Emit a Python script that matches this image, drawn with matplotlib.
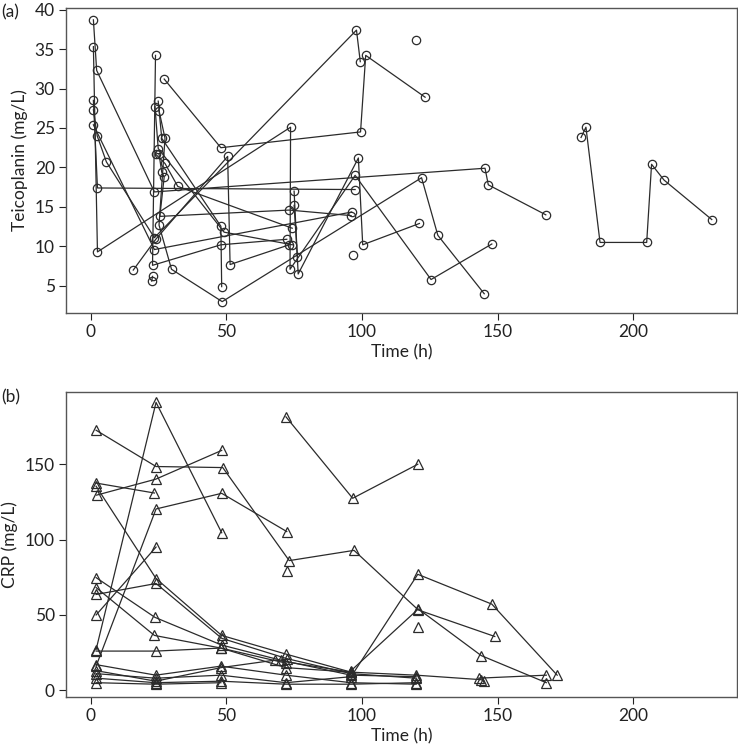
import matplotlib
matplotlib.use("Agg")
import matplotlib.pyplot as plt

plt.rcParams['font.family'] = ['Lato', 'DejaVu Sans']

# ---------------- Panel (a): Teicoplanin (mg/L) per patient ----------------
teico_t = [
    [1.0, 2.2, 23.5, 145.4, 146.6, 167.8],
    [1.0, 2.5, 73.7, 73.5, 97.5, 125.5, 147.9],
    [1.0, 2.5, 97.5],
    [1.0, 2.4, 5.8, 23.5, 98.0, 99.4],
    [1.0, 23.5, 96.2],
    [27.1, 48.0, 99.5, 101.4, 123.3],
    [23.9, 22.8, 48.0, 72.3],
    [24.9, 26.2, 48.0, 48.3],
    [25.2, 27.4, 25.2, 29.8, 48.5, 122.0, 128.0, 145.1],
    [23.7, 24.9, 49.2, 74.4],
    [15.7, 24.0, 50.5, 51.4, 73.2],
    [23.9, 27.4, 32.1, 74.3],
    [25.2, 26.2, 27.1, 25.5, 73.2, 96.0],
    [22.5, 22.8],
    [75.0, 76.5, 98.7, 100.3, 121.2],
    [75.0, 76.2],
    [180.8, 182.6, 187.8, 205.0, 206.8, 211.4, 229.0],
    [120.0],
    [96.6],
]
teico_v = [
    [38.7, 32.3, 16.9, 19.9, 17.8, 14.0],
    [35.3, 9.3, 25.1, 7.1, 19.0, 5.8, 10.3],
    [28.5, 17.4, 17.2],
    [27.3, 24.0, 20.7, 11.1, 37.4, 33.4],
    [25.4, 9.6, 14.35],
    [31.2, 22.5, 24.5, 34.2, 28.9],
    [34.2, 7.6, 10.2, 10.9],
    [28.4, 23.7, 12.55, 4.9],
    [27.2, 23.7, 12.7, 7.1, 3.0, 18.7, 11.4, 4.0],
    [27.7, 22.4, 11.8, 10.2],
    [7.0, 10.9, 21.4, 7.7, 10.2],
    [21.7, 20.5, 17.6, 12.3],
    [21.7, 19.4, 18.8, 13.8, 14.6, 13.9],
    [5.6, 6.2],
    [17.0, 6.5, 21.2, 10.2, 12.9],
    [15.2, 8.7],
    [23.8, 25.1, 10.5, 10.5, 20.4, 18.4, 13.4],
    [36.1],
    [8.9],
]

# ---------------- Panel (b): CRP (mg/L) per patient ----------------
crp_t = [
    [2.0, 24.1, 48.7, 73.2, 97.1, 120.8, 149.0],
    [2.2, 24.0, 48.3],
    [2.0, 23.5],
    [2.0, 24.1, 48.3, 72.3],
    [2.0, 24.1, 48.3],
    [2.0, 24.1, 48.3, 72.0, 96.0],
    [2.0, 24.1],
    [72.0, 96.6, 120.6],
    [72.3],
    [2.0, 24.0, 48.0, 72.0, 96.0, 120.6, 147.9, 172.0],
    [2.0, 23.7, 48.3, 70.0, 96.0, 120.0],
    [2.0, 23.5, 48.0, 72.0, 96.0],
    [96.0, 120.8, 144.0, 168.0],
    [2.0, 24.1, 48.3, 72.3, 96.0, 120.0],
    [120.6],
    [2.0, 24.0, 48.0, 72.0],
    [2.0, 24.0, 48.0, 72.0, 96.0, 120.0],
    [2.0, 24.0, 48.0, 68.0, 96.0, 120.0, 144.0, 145.0],
    [2.0, 24.0, 48.0, 72.0, 96.0, 120.0],
    [2.0, 24.0, 48.0],
    [143.0, 168.0],
]
crp_v = [
    [172.7, 148.6, 147.9, 86.1, 92.9, 53.3, 35.7],
    [129.6, 140.2, 159.3],
    [137.6, 131.0],
    [16.0, 120.4, 130.8, 105.4],
    [27.0, 191.2, 104.6],
    [135.5, 74.2, 36.4, 24.0, 12.0],
    [50.0, 95.1],
    [181.6, 127.5, 150.1],
    [79.0],
    [11.0, 8.0, 10.0, 5.0, 9.0, 77.0, 57.2, 10.0],
    [74.8, 48.4, 30.0, 20.0, 10.0, 9.0],
    [68.2, 36.4, 28.0, 15.0, 12.0],
    [13.0, 54.0, 23.0, 5.0],
    [63.6, 70.9, 34.5, 21.0, 11.0, 8.0],
    [42.3],
    [26.0, 26.0, 28.0, 18.0],
    [17.0, 10.0, 16.0, 10.0, 5.0, 4.0],
    [13.0, 6.0, 15.0, 20.0, 12.0, 10.0, 7.0, 6.0],
    [8.0, 5.0, 6.0, 4.0, 4.0, 5.0],
    [5.0, 4.0, 5.0],
    [8.0, 10.0],
]

x_ticks = [0, 50, 100, 150, 200]
teico_ticks = [5, 10, 15, 20, 25, 30, 35, 40]
crp_ticks = [0, 50, 100, 150]

W, H = 738, 751
fig = plt.figure(figsize=(W / 100, H / 100), dpi=100)

def rect(l, t, r, b):
    return [l / W, 1 - b / H, (r - l) / W, (b - t) / H]

ax1 = fig.add_axes(rect(66, 8, 737, 313))
ax2 = fig.add_axes(rect(66, 392, 737, 697))

line_col = '#2b2b2b'
for ts, vs in zip(teico_t, teico_v):
    ax1.plot(ts, vs, color=line_col, lw=0.9, marker='o', ms=6.0,
             mfc='none', mec=line_col, mew=0.9)
for ts, vs in zip(crp_t, crp_v):
    ax2.plot(ts, vs, color=line_col, lw=0.9, marker='^', ms=7.4,
             mfc='none', mec=line_col, mew=0.9)

ax1.set_xlim(-9.1, 238.3)
ax1.set_ylim(1.56, 40.2)
ax2.set_xlim(-9.1, 238.3)
ax2.set_ylim(-4.5, 198.1)

ax1.set_xticks(x_ticks)
ax1.set_yticks(teico_ticks)
ax2.set_xticks(x_ticks)
ax2.set_yticks(crp_ticks)

fs = 12.5
for ax, yl in ((ax1, 'Teicoplanin (mg/L)'), (ax2, 'CRP (mg/L)')):
    ax.set_xlabel('Time (h)', fontsize=fs, color='#222222', labelpad=3)
    ax.set_ylabel(yl, fontsize=fs, color='#222222', labelpad=5)
    ax.tick_params(axis='both', labelsize=fs, colors='#222222',
                   length=5, width=0.8, direction='out', pad=3)
    for s in ax.spines.values():
        s.set_color('#555555')
        s.set_linewidth(1.0)

fig.text(1 / W, 1 - 12 / H, '(a)', fontsize=fs, color='#222222', va='center', ha='left')
fig.text(1 / W, 1 - 397 / H, '(b)', fontsize=fs, color='#222222', va='center', ha='left')

fig.savefig('out.png', dpi=100)
